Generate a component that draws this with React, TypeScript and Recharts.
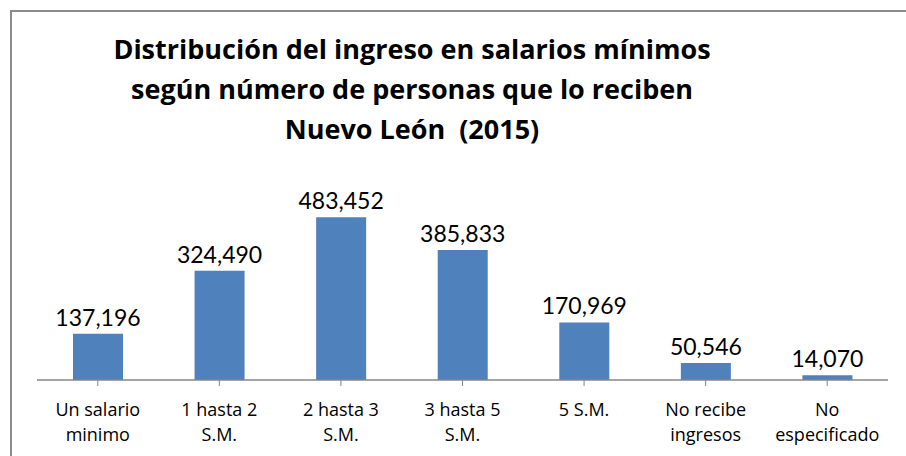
import React from "react";
import { BarChart, Bar, XAxis, YAxis, LabelList } from "recharts";

const categories = [
  "Un salario\nminimo",
  "1 hasta 2\nS.M.",
  "2 hasta 3\nS.M.",
  "3 hasta 5\nS.M.",
  "5 S.M.",
  "No recibe\ningresos",
  "No\nespecificado",
];
const personas = [137196, 324490, 483452, 385833, 170969, 50546, 14070];
const titleLines = [
  "Distribución del ingreso en salarios mínimos",
  "según número de personas que lo reciben",
  "Nuevo León  (2015)",
];

const data = categories.map((c, i) => ({ name: c, value: personas[i] }));

const FONT = "'Open Sans', Lato, sans-serif";

const Tick = (props: any) => {
  const { x, y, payload } = props;
  const lines = String(payload.value).split("\n");
  return (
    <text x={x} y={y} textAnchor="middle" fontFamily={FONT} fontSize={18} fill="#000">
      {lines.map((l, i) => (
        <tspan key={i} x={x} dy={i === 0 ? 28 : 25}>
          {l}
        </tspan>
      ))}
    </text>
  );
};

export default function App() {
  return (
    <div style={{ position: "absolute", left: 0, top: 0, width: 906, height: 456, background: "#fff", overflow: "hidden" }}>
      <div
        style={{
          position: "absolute",
          left: 10,
          top: 10,
          width: 920,
          height: 460,
          borderLeft: "2px solid #8c8c8c",
          borderTop: "2px solid #8c8c8c",
        }}
      />
      <div
        style={{
          position: "absolute",
          left: 62,
          top: 29,
          width: 700,
          textAlign: "center",
          fontFamily: FONT,
          fontWeight: 700,
          fontSize: 27,
          lineHeight: "40px",
          color: "#000",
        }}
      >
        {titleLines.map((t, i) => (
          <div key={i} style={{ whiteSpace: "pre" }}>{t}</div>
        ))}
      </div>
      <div style={{ position: "absolute", left: 0, top: 0 }}>
        <BarChart
          width={906}
          height={456}
          data={data}
          margin={{ top: 178, right: 18, bottom: 46, left: 37 }}
        >
          <XAxis
            dataKey="name"
            interval={0}
            tick={<Tick />}
            tickSize={6}
            height={30}
            stroke="#868686"
            axisLine={{ stroke: "#868686", strokeWidth: 1.5 }}
            tickLine={{ stroke: "#868686" }}
          />
          <YAxis hide domain={[0, 600000]} />
          <Bar dataKey="value" fill="#4F81BD" barSize={50} isAnimationActive={false}>
            <LabelList
              dataKey="value"
              position="top"
              offset={8}
              formatter={(v: any) => Number(v).toLocaleString("en-US")}
              style={{ fontFamily: "Lato, sans-serif", fontSize: 23, fill: "#000" }}
            />
          </Bar>
        </BarChart>
      </div>
    </div>
  );
}
